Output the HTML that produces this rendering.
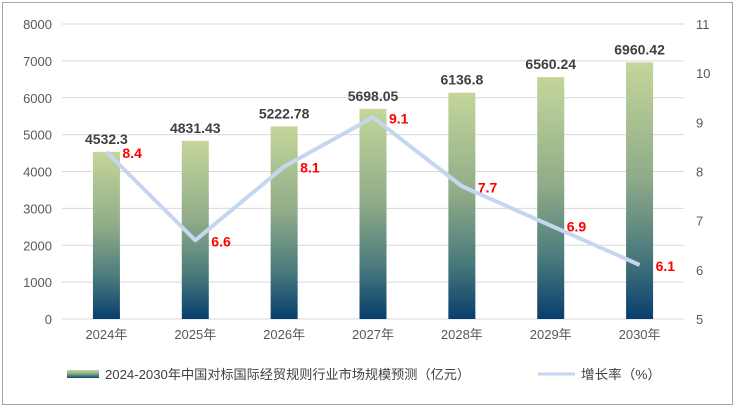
<!DOCTYPE html>
<html><head><meta charset="utf-8"><style>
body{margin:0;background:#fff;}
svg{display:block;font-family:"Liberation Sans","Noto Sans CJK SC",sans-serif;}
</style></head><body>
<svg id="chart" width="736" height="408" viewBox="0 0 736 408">
<defs><linearGradient id="bg" x1="0" y1="0" x2="0" y2="1">
<stop offset="0" stop-color="#c4d69a"/><stop offset="0.45" stop-color="#8fab88"/><stop offset="0.75" stop-color="#4a7a7c"/><stop offset="1" stop-color="#073e6e"/></linearGradient></defs>
<rect x="2.5" y="2.5" width="730" height="402" fill="#fff" stroke="#a6a6a6"/>
<g id="grid"></g><g id="bars"></g><g id="line"></g><g id="labels"></g>
<g>
<rect x="67" y="370" width="32" height="8" fill="url(#bg)"/>
<text x="105" y="379" font-size="13" fill="#404040" textLength="365" lengthAdjust="spacingAndGlyphs">2024-2030年中国对标国际经贸规则行业市场规模预测（亿元）</text>
<line x1="538" y1="374" x2="575" y2="374" stroke="#c5d7ef" stroke-width="3"/>
<text x="581" y="379" font-size="13" fill="#404040" textLength="80" lengthAdjust="spacingAndGlyphs">增长率（%）</text>
</g>
</svg>
<script>
const categories=["2024年","2025年","2026年","2027年","2028年","2029年","2030年"];
const marketSize=[4532.3,4831.43,5222.78,5698.05,6136.8,6560.24,6960.42];
const marketLabels=["4532.3","4831.43","5222.78","5698.05","6136.8","6560.24","6960.42"];
const growth=[8.4,6.6,8.1,9.1,7.7,6.9,6.1];
const leftTicks=[0,1000,2000,3000,4000,5000,6000,7000,8000];
const rightTicks=[5,6,7,8,9,10,11];
const NS="http://www.w3.org/2000/svg";
const x0=62,x1=684,yb=319,yt=24;
const yL=v=>yb-v/8000*(yb-yt);
const yR=v=>yb-(v-5)/6*(yb-yt);
const bw=(x1-x0)/categories.length;
const xc=i=>x0+bw*(i+0.5);
function mk(tag,attrs,parent,text){const e=document.createElementNS(NS,tag);for(const k in attrs)e.setAttribute(k,attrs[k]);if(text!==undefined)e.textContent=text;document.getElementById(parent).appendChild(e);return e;}
leftTicks.forEach(t=>{
 const l=mk('line',{x1:x0,x2:x1,y1:yL(t),y2:yL(t),stroke:'#d9d9d9','stroke-width':1},'grid');
 
 
 const tx=mk('text',{x:52,y:yL(t)+5,'text-anchor':'end','font-size':13,fill:'#595959'},'grid',t);
 
 
});
rightTicks.forEach(t=>{
 const tx=mk('text',{x:696,y:yR(t)+5,'font-size':13,fill:'#595959'},'grid',t);
 
 
});
categories.forEach((c,i)=>{
 const b=mk('rect',{x:xc(i)-13.5,y:yL(marketSize[i]),width:27,height:yb-yL(marketSize[i]),fill:'url(#bg)'},'bars');
 
 
 const t=mk('text',{x:xc(i),y:yb+20,'text-anchor':'middle','font-size':13,fill:'#595959'},'labels',c);
 
 
 const v=mk('text',{x:xc(i),y:yL(marketSize[i])-8,'text-anchor':'middle','font-size':14,'font-weight':'bold',fill:'#404040'},'labels',marketLabels[i]);
 
 
 const g=mk('text',{x:xc(i)+16,y:yR(growth[i])+6,'font-size':14,'font-weight':'bold',fill:'#ff0000'},'labels',growth[i].toFixed(1));
 
 
});
const pl=mk('polyline',{points:growth.map((g,i)=>xc(i)+','+yR(g)).join(' '),fill:'none',stroke:'#c5d7ef','stroke-width':4,'stroke-linejoin':'round'},'line');


</script>
</body></html>
